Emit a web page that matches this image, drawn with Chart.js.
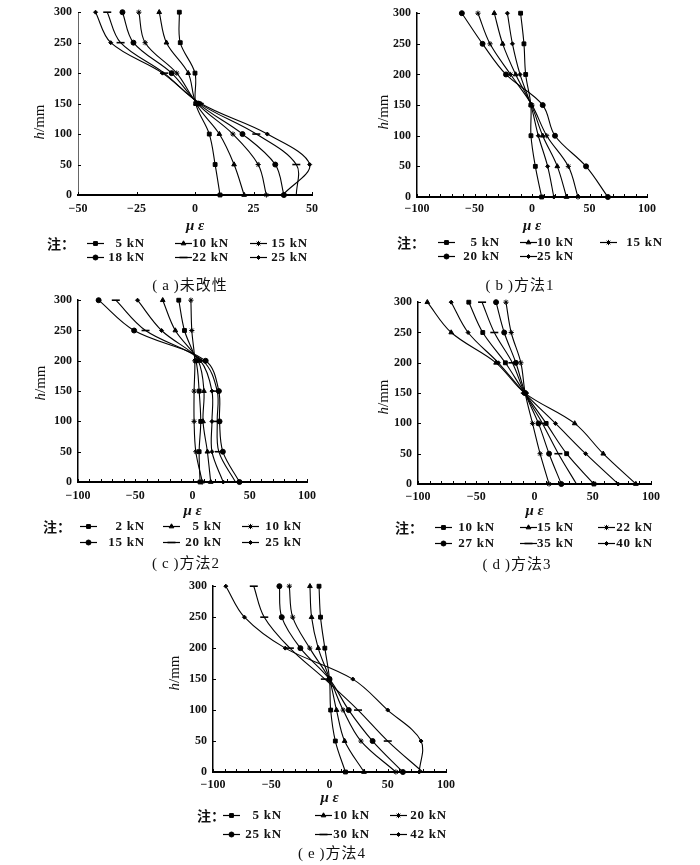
<!DOCTYPE html>
<html lang="zh-CN">
<head>
<meta charset="UTF-8">
<title>应变沿高度分布</title>
<script src="https://cdn.jsdelivr.net/npm/chart.js"></script>
<style>
  body { margin: 0; background: #fff; width: 700px; height: 865px; position: relative; overflow: hidden;
         font-family: "Liberation Serif", "Noto Sans CJK SC", serif; color: #111; }
  .box { position: absolute; }
  .ytitle { position: absolute; transform: translate(-50%, -50%) rotate(-90deg); font-size: 15px; white-space: nowrap; }
  .note { position: absolute; font-size: 14px; transform: translateY(-50%); font-family: "Noto Sans CJK SC"; font-weight: bold; }
  .item { position: absolute; height: 16px; display: flex; align-items: center; font-size: 13px; font-weight: bold; letter-spacing: 0.8px; white-space: nowrap; }
  .item span { display: inline-block; text-align: right; }
  .cap { position: absolute; font-size: 15px; transform: translate(-50%, -50%); white-space: nowrap; letter-spacing: 1px; }
</style>
</head>
<body>
<script>
// 测点高度 h/mm
const heights = [0, 50, 100, 150, 200, 250, 300];
const yTicks = [0, 50, 100, 150, 200, 250, 300];

// (a) 未改性
const loadsA = ['5 kN', '10 kN', '15 kN', '18 kN', '22 kN', '25 kN'];
const strainA = [
  [10.7, 8.6, 6.1, 0.3, 0, -6.3, -6.7],
  [21, 16.7, 10.4, 0.5, -2.9, -12.2, -15.3],
  [30.5, 27, 16.2, 1, -7.8, -21.3, -24],
  [38, 34.3, 20.3, 1.5, -10, -26.3, -31],
  [43.3, 43.3, 26.2, 2, -13.2, -31.8, -37.5],
  [37.5, 49, 30.9, 2.5, -13.9, -36, -42.5]
];
const xTicksA = [-50, -25, 0, 25, 50];

// (b) 方法1
const loadsB = ['5 kN', '10 kN', '15 kN', '20 kN', '25 kN'];
const strainB = [
  [8.4, 2.9, -0.9, -1, -5.5, -7, -9.9],
  [30, 22, 9.3, -0.5, -14.2, -25.5, -32.8],
  [40, 31.6, 12.8, 0, -18.6, -36.5, -47],
  [66, 47, 20, 9.3, -22.6, -43, -61],
  [19, 13.6, 5.5, -1, -10.4, -17, -21.4]
];
const xTicksB = [-100, -50, 0, 50, 100];

// (c) 方法2
const loadsC = ['2 kN', '5 kN', '10 kN', '15 kN', '20 kN', '25 kN'];
const strainC = [
  [6.6, 5.8, 7.2, 5.8, 3, -7, -12],
  [15.9, 13, 9.2, 10, 5, -15, -26],
  [8.6, 2.9, 1.4, 1.4, 2, -0.6, -1.4],
  [41, 26.5, 23.6, 23, 11.5, -51, -82],
  [37.5, 23, 21.6, 21.6, 9, -41, -67],
  [26.8, 17, 17, 17, 7, -27, -48]
];
const xTicksC = [-100, -50, 0, 50, 100];

// (d) 方法3
const loadsD = ['10 kN', '15 kN', '22 kN', '27 kN', '35 kN', '40 kN'];
const strainD = [
  [51, 27.6, 10, -8.3, -25, -44.4, -56.4],
  [87, 59, 34.5, -8.3, -33, -71.5, -92],
  [12.5, 4.8, -1.7, -8, -11.7, -20, -24.5],
  [23, 12.5, 3.4, -8, -16, -26, -33],
  [36, 20.5, 6.8, -8.3, -19, -34.5, -45],
  [71.8, 43.9, 18, -8.5, -31, -57, -71.5]
];
const xTicksD = [-100, -50, 0, 50, 100];

// (e) 方法4
const loadsE = ['5 kN', '10 kN', '20 kN', '25 kN', '30 kN', '42 kN'];
const strainE = [
  [13.7, 5, 1, 0, -4, -7.7, -9],
  [29.6, 13, 6, 0, -9.7, -15.4, -16.8],
  [57, 27, 11.7, 0, -17, -31.6, -34.5],
  [63, 37, 16.5, 0, -25, -41, -43],
  [80, 50, 24.5, -4, -34, -56, -65],
  [77, 78.6, 50, 20, -38, -73, -89]
];
const xTicksE = [-100, -50, 0, 50, 100];

const captions = ['(a)未改性', '(b)方法1', '(c)方法2', '(d)方法3', '(e)方法4'];

// marker styles in legend order
const markA = ['rect', 'triangle', 'star', 'circle', 'line', 'rectRot'];
const markB = ['rect', 'triangle', 'star', 'circle', 'rectRot'];

// layout of each panel (page pixels)
const panels = [
  { loads: loadsA, strain: strainA, xt: xTicksA, marks: markA, minor: 25, yAxisColor: '#666', yAxisW: 1,
    L: 78, R: 312, T: 11, B: 195, yTitle: [39, 122], xLab: 208, xTit: 226,
    note: [47, 243], rows: [243, 257], cols: [[87, 145], [175, 229], [250, 308]], cap: [190, 283] },
  { loads: loadsB, strain: strainB, xt: xTicksB, marks: markB, minor: 10, yAxisColor: '#000', yAxisW: 1.5,
    L: 417, R: 647, T: 12, B: 197, yTitle: [383, 112], xLab: 208, xTit: 226,
    note: [397, 242], rows: [242, 256], cols: [[438, 500], [520, 570], [600, 663]], cap: [520, 283] },
  { loads: loadsC, strain: strainC, xt: xTicksC, marks: markA, minor: 10, yAxisColor: '#000', yAxisW: 1.5,
    L: 78, R: 309, T: 299, B: 482, yTitle: [40, 383], xLab: 495, xTit: 511,
    note: [43, 526], rows: [526, 542], cols: [[80, 145], [163, 222], [242, 302]], cap: [186, 561] },
  { loads: loadsD, strain: strainD, xt: xTicksD, marks: markA, minor: 10, yAxisColor: '#000', yAxisW: 1.5,
    L: 418, R: 652, T: 301, B: 484, yTitle: [383, 397], xLab: 496, xTit: 511,
    note: [395, 527], rows: [527, 543], cols: [[435, 495], [520, 573], [598, 653]], cap: [517, 562] },
  { loads: loadsE, strain: strainE, xt: xTicksE, marks: markA, minor: 10, yAxisColor: '#000', yAxisW: 1.5,
    L: 213, R: 447, T: 585, B: 772, yTitle: [174, 673], xLab: 784, xTit: 798,
    note: [197, 815], rows: [815, 834], cols: [[223, 282], [315, 370], [390, 447]], cap: [332, 851] }
];

function markerSize(style) {
  if (style === 'line') return 4;
  if (style === 'rectRot') return 2;
  if (style === 'star') return 2.6;
  if (style === 'circle') return 2.5;
  return 2.7;
}

// small inward tick marks on both axes
const innerTicks = {
  id: 'innerTicks',
  afterDraw(chart, args, opts) {
    const { ctx, chartArea: a, scales: { x, y } } = chart;
    ctx.save();
    ctx.strokeStyle = '#000';
    ctx.lineWidth = 1;
    for (let v = x.min; v <= x.max + 1e-9; v += opts.minor) {
      const px = Math.round(x.getPixelForValue(v)) + 0.5;
      ctx.beginPath(); ctx.moveTo(px, a.bottom); ctx.lineTo(px, a.bottom - 3); ctx.stroke();
    }
    y.ticks.forEach(t => {
      const py = Math.round(y.getPixelForValue(t.value)) + 0.5;
      ctx.beginPath(); ctx.moveTo(a.left, py); ctx.lineTo(a.left + 3, py); ctx.stroke();
    });
    ctx.restore();
  }
};

const minus = v => String(v).replace('-', '\u2212');
const tickFont = { family: '"Liberation Serif", serif', size: 12, weight: 'bold' };

panels.forEach((p, k) => {
  const left = p.L - 50, top = p.T - 12;
  const width = p.R + 14 - left, height = p.xTit + 12 - top;

  const box = document.createElement('div');
  box.className = 'box';
  box.style.left = left + 'px';
  box.style.top = top + 'px';
  const cv = document.createElement('canvas');
  cv.width = width; cv.height = height;
  cv.style.width = width + 'px'; cv.style.height = height + 'px';
  box.appendChild(cv);
  document.body.appendChild(box);

  const datasets = p.loads.map((name, i) => ({
    label: name,
    data: heights.map((h, j) => ({ x: p.strain[i][j], y: h })),
    showLine: true,
    tension: 0.35,
    borderColor: '#000',
    borderWidth: 1.1,
    pointStyle: p.marks[i],
    pointRadius: markerSize(p.marks[i]),
    pointBackgroundColor: '#000',
    pointBorderColor: '#000',
    pointBorderWidth: p.marks[i] === 'line' ? 1.6 : 1,
    clip: false
  }));

  new Chart(cv.getContext('2d'), {
    type: 'scatter',
    data: { datasets },
    options: {
      responsive: false,
      animation: false,
      layout: { padding: { top: p.T - top, right: 14, left: 0, bottom: 0 } },
      plugins: { legend: { display: false }, tooltip: { enabled: false }, innerTicks: { minor: p.minor } },
      scales: {
        x: {
          type: 'linear',
          min: p.xt[0], max: p.xt[p.xt.length - 1],
          afterBuildTicks: s => { s.ticks = p.xt.map(v => ({ value: v })); },
          afterFit: s => { s.height = height - (p.B - top); },
          grid: { display: false, drawTicks: false },
          border: { color: '#000', width: 2 },
          ticks: { color: '#111', font: tickFont, padding: p.xLab - p.B - 6, maxRotation: 0, callback: v => minus(v) },
          title: { display: true, text: 'μ ε', color: '#111',
                   font: { family: '"Liberation Serif", serif', size: 15, style: 'italic', weight: 'bold' },
                   padding: { top: 0, bottom: (top + height) - p.xTit - 9 } }
        },
        y: {
          type: 'linear',
          min: 0, max: 300,
          afterBuildTicks: s => { s.ticks = yTicks.map(v => ({ value: v })); },
          afterFit: s => { s.width = 50; },
          grid: { display: false, drawTicks: false },
          border: { color: p.yAxisColor, width: p.yAxisW },
          ticks: { color: '#111', font: tickFont, padding: 6 }
        }
      }
    },
    plugins: [innerTicks]
  });

  // y axis title
  const yt = document.createElement('div');
  yt.className = 'ytitle';
  yt.style.left = p.yTitle[0] + 'px';
  yt.style.top = p.yTitle[1] + 'px';
  yt.innerHTML = '<i>h</i>/mm';
  document.body.appendChild(yt);

  // legend
  const note = document.createElement('div');
  note.className = 'note';
  note.style.left = p.note[0] + 'px';
  note.style.top = p.note[1] + 'px';
  note.textContent = '注：';
  document.body.appendChild(note);

  p.loads.forEach((name, i) => {
    const row = Math.floor(i / 3), col = i % 3;
    const [sx, ex] = p.cols[col];
    const it = document.createElement('div');
    it.className = 'item';
    it.style.left = sx + 'px';
    it.style.top = (p.rows[row] - 8) + 'px';
    const sc = document.createElement('canvas');
    sc.width = 17; sc.height = 16;
    const c = sc.getContext('2d');
    c.strokeStyle = '#000'; c.fillStyle = '#000'; c.lineWidth = 1.2;
    c.beginPath(); c.moveTo(0, 8.5); c.lineTo(17, 8.5); c.stroke();
    c.lineWidth = p.marks[i] === 'line' ? 1.6 : 1;
    Chart.helpers.drawPoint(c, { pointStyle: p.marks[i], radius: markerSize(p.marks[i]), rotation: 0, borderWidth: c.lineWidth }, 8.5, 8.5);
    it.appendChild(sc);
    const sp = document.createElement('span');
    sp.style.width = (ex - sx - 17) + 'px';
    sp.textContent = name;
    it.appendChild(sp);
    document.body.appendChild(it);
  });

  // caption: thin gaps inside the parentheses, as in the print
  const cap = document.createElement('div');
  cap.className = 'cap';
  cap.style.left = p.cap[0] + 'px';
  cap.style.top = p.cap[1] + 'px';
  cap.textContent = captions[k].replace('(', '(\u2009').replace(')', '\u2009)');
  document.body.appendChild(cap);
});
</script>
</body>
</html>
